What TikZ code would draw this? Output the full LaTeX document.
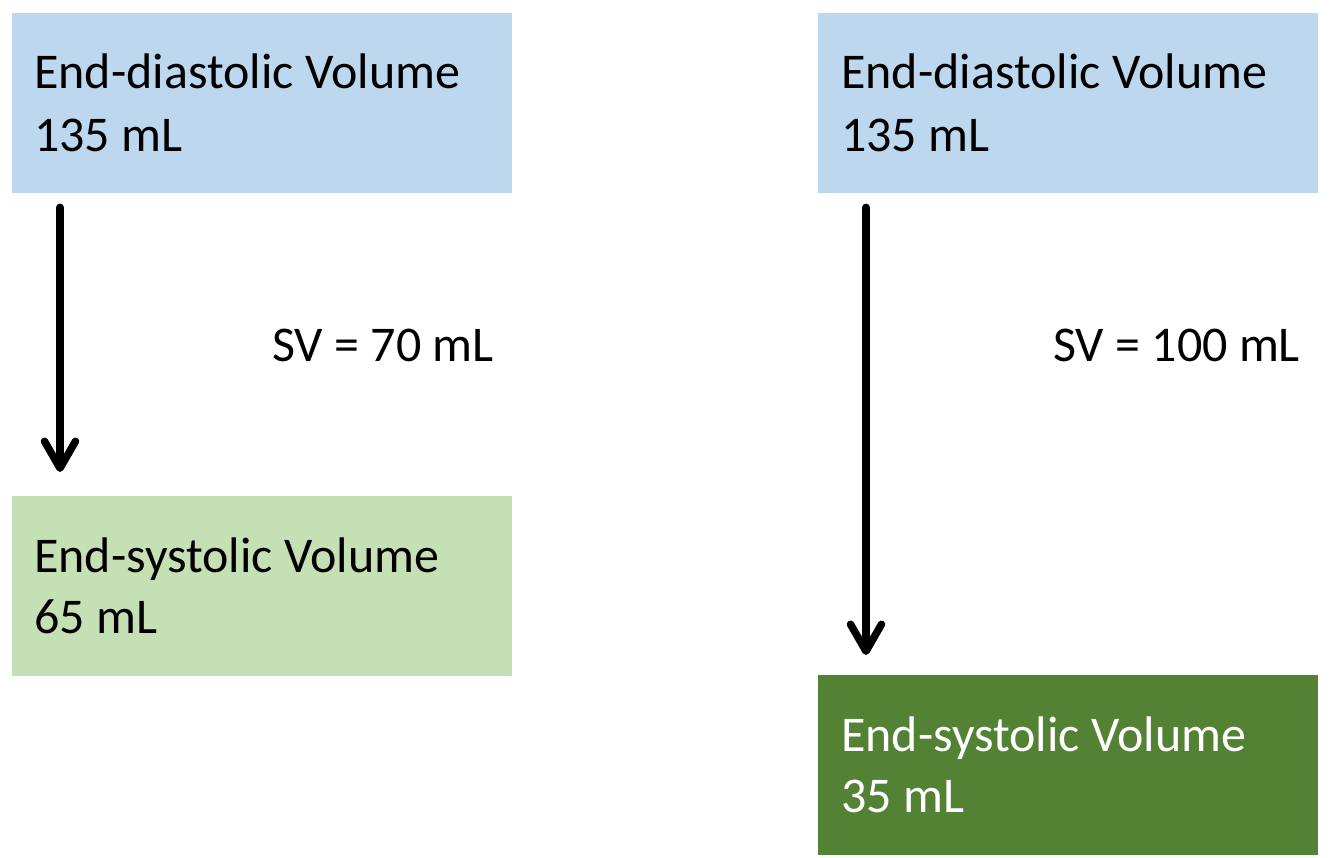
\documentclass[tikz,border=0pt]{standalone}
\usepackage{fontspec}
\setmainfont{Carlito}
\usetikzlibrary{arrows.meta}
\definecolor{edvblue}{HTML}{BDD7EE}
\definecolor{esvlight}{HTML}{C5E0B4}
\definecolor{esvdark}{HTML}{548235}
\tikzset{
  box/.style={rectangle, draw=none, minimum width=500pt, minimum height=180pt, inner sep=0pt, anchor=north west},
  txt/.style={anchor=base west, inner sep=0pt, font=\fontsize{50}{63}\selectfont},
  arr/.style={line width=7.5pt, line cap=round, -{Straight Barb[length=27pt, width=31pt, line cap=round, line join=round]}},
}
\begin{document}
\begin{tikzpicture}[x=1pt,y=1pt]
\useasboundingbox (0,0) rectangle (1330,-858);
% boxes
\node[box, fill=edvblue] (edvL) at (12,-13) {};
\node[box, fill=esvlight] (esvL) at (12,-496) {};
\node[box, fill=edvblue] (edvR) at (818,-13) {};
\node[box, fill=esvdark] (esvR) at (818,-675) {};
% texts
\node[txt] (edvLa) at ([shift={(22,-76)}]edvL.north west) {End-diastolic Volume};
\node[txt] (edvLb) at ([shift={(22,-139)}]edvL.north west) {135 mL};
\node[txt] (esvLa) at ([shift={(22,-76)}]esvL.north west) {End-systolic Volume};
\node[txt] (esvLb) at ([shift={(22,-137)}]esvL.north west) {65 mL};
\node[txt] (edvRa) at ([shift={(23,-76)}]edvR.north west) {End-diastolic Volume};
\node[txt] (edvRb) at ([shift={(23,-139)}]edvR.north west) {135 mL};
\node[txt, text=white] (esvRa) at ([shift={(23,-76)}]esvR.north west) {End-systolic Volume};
\node[txt, text=white] (esvRb) at ([shift={(23,-137)}]esvR.north west) {35 mL};
% SV labels
\node[txt] (svL) at (272,-361) {SV = 70 mL};
\node[txt] (svR) at (1053,-361) {SV = 100 mL};
% arrows
\draw[arr] ([shift={(48,-14)}]edvL.south west) -- ([shift={(48,24)}]esvL.north west);
\draw[arr] ([shift={(48,-14)}]edvR.south west) -- ([shift={(48,20)}]esvR.north west);
\end{tikzpicture}
\end{document}
